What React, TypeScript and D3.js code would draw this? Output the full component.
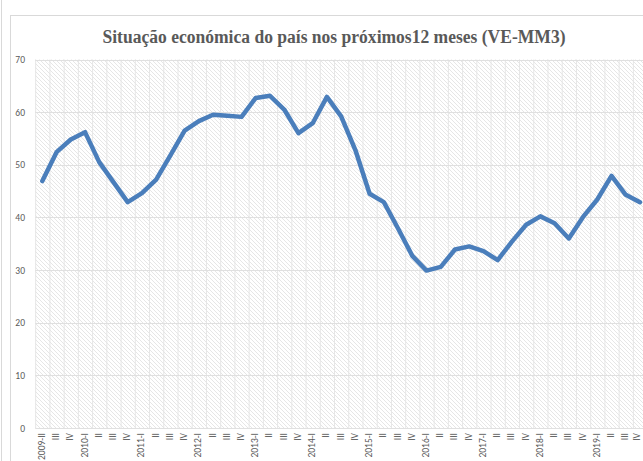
import React from "react";
import * as d3 from "d3";

const title = "Situação económica do país nos próximos12 meses (VE-MM3)";

const categories: string[] = [
  "2009-II", "III", "IV",
  "2010-I", "II", "III", "IV",
  "2011-I", "II", "III", "IV",
  "2012-I", "II", "III", "IV",
  "2013-I", "II", "III", "IV",
  "2014-I", "II", "III", "IV",
  "2015-I", "II", "III", "IV",
  "2016-I", "II", "III", "IV",
  "2017-I", "II", "III", "IV",
  "2018-I", "II", "III", "IV",
  "2019-I", "II", "III", "IV",
];

const values: number[] = [
  46.9, 52.4, 54.8,
  56.2, 50.5, 46.7, 42.9,
  44.6, 47.2, 51.8, 56.5,
  58.3, 59.5, 59.3, 59.1,
  62.7, 63.1, 60.5, 56.0,
  57.9, 62.9, 59.2, 52.8,
  44.5, 42.9, 37.9, 32.7,
  29.9, 30.6, 33.9, 34.5,
  33.6, 31.9, 35.4, 38.6,
  40.2, 38.9, 36.0, 40.1,
  43.4, 47.9, 44.3, 42.9,
];

const yTicks: number[] = [0, 10, 20, 30, 40, 50, 60, 70];

export default function App() {
  const W = 643;
  const H = 461;
  const left = 35.2;
  const bandW = 14.23;
  const right = left + bandW * categories.length;
  const top = 59.5;
  const bottom = 428;

  const x = d3
    .scaleBand<string>()
    .domain(categories.map((_, i) => String(i)))
    .range([left, right])
    .paddingInner(0)
    .paddingOuter(0);
  const xc = (i: number) => (x(String(i)) as number) + x.bandwidth() / 2;
  const y = d3.scaleLinear().domain([0, 70]).range([bottom, top]);

  const line = d3
    .line<number>()
    .x((_, i) => xc(i))
    .y((d) => y(d));

  const font = "Calibri, Carlito, 'Liberation Sans', Arial, sans-serif";

  return (
    <svg
      width={W}
      height={H}
      style={{ position: "absolute", left: 0, top: 0, background: "#fff" }}
    >
      <defs>
        <pattern id="hatch" width="4" height="4" patternUnits="userSpaceOnUse">
          <rect width="4" height="4" fill="#ffffff" />
          <path d="M-1,-1 L5,5 M-1,3 L1,5 M3,-1 L5,1" stroke="#e6e6e6" strokeWidth={1} />
        </pattern>
        <clipPath id="clipAll">
          <rect x={0} y={0} width={W} height={H} />
        </clipPath>
      </defs>
      <g clipPath="url(#clipAll)">
        {/* outer frames */}
        <line x1={1.5} y1={0} x2={1.5} y2={H} stroke="#d9d9d9" strokeWidth={1} />
        <rect x={10.5} y={15.5} width={W} height={H} fill="#fff" stroke="#d9d9d9" strokeWidth={1} />

        {/* title */}
        <text
          x={334}
          y={43}
          textAnchor="middle"
          fontFamily="'Liberation Serif', 'DejaVu Serif', serif"
          fontWeight="bold"
          fontSize={18}
          fill="#595959"
          textLength={463}
          lengthAdjust="spacingAndGlyphs"
        >
          {title}
        </text>

        {/* plot background */}
        <rect x={left} y={top} width={right - left} height={bottom - top} fill="url(#hatch)" />

        {/* vertical gridlines */}
        {categories.map((_, i) => (
          <line
            key={"vg" + i}
            x1={(x(String(i)) as number) + 0.5}
            x2={(x(String(i)) as number) + 0.5}
            y1={top}
            y2={bottom}
            stroke="#e6e6e6"
            strokeWidth={1}
          />
        ))}

        {/* horizontal gridlines */}
        {yTicks.map((t) => (
          <line
            key={"hg" + t}
            x1={left}
            x2={right}
            y1={Math.round(y(t)) + 0.5}
            y2={Math.round(y(t)) + 0.5}
            stroke="#e0e0e0"
            strokeWidth={1}
          />
        ))}

        {/* y labels */}
        {yTicks.map((t) => (
          <text
            key={"yl" + t}
            x={25}
            y={y(t) + 3.5}
            textAnchor="end"
            fontFamily={font}
            fontSize={9.5}
            fill="#595959"
          >
            {t}
          </text>
        ))}

        {/* x labels */}
        {categories.map((c, i) => (
          <text
            key={"xl" + i}
            transform={`translate(${Math.min(xc(i) + 2.5, W - 3)},${bottom + 5}) rotate(-90)`}
            textAnchor="end"
            fontFamily={font}
            fontSize={9.5}
            fill="#595959"
          >
            {c}
          </text>
        ))}

        {/* data line */}
        <path
          d={line(values) as string}
          fill="none"
          stroke="#4a7ebb"
          strokeWidth={4.5}
          strokeLinejoin="round"
          strokeLinecap="round"
        />
      </g>
    </svg>
  );
}
